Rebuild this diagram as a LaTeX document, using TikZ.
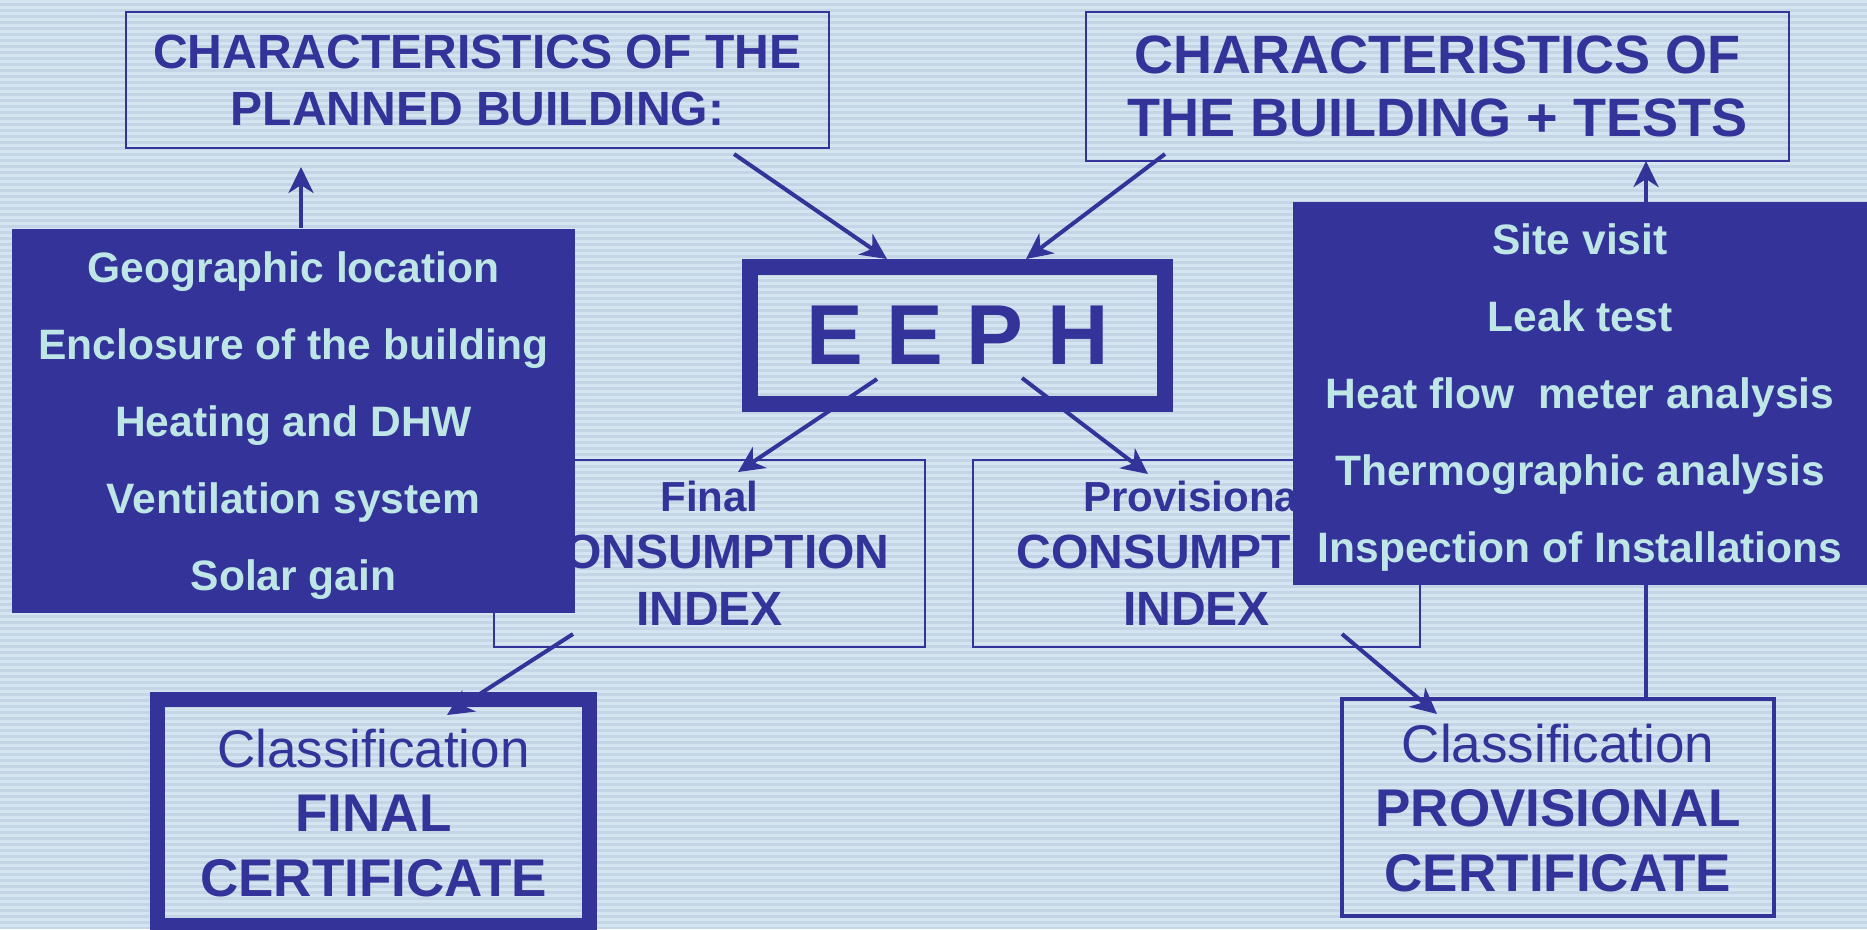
\documentclass[tikz,border=0pt]{standalone}
\usepackage{fontspec}
\setmainfont{Liberation Sans}
\usetikzlibrary{arrows.meta,calc}
\definecolor{navy}{RGB}{51,51,153}
\definecolor{ice}{RGB}{190,230,230}
\definecolor{bgbase}{RGB}{196,214,230}
\definecolor{bgstripe}{RGB}{212,228,240}

\begin{document}
\begin{tikzpicture}[x=0.01cm, y=-0.01cm,
        frame/.style = {draw=navy, text=navy, align=center,
            inner sep=0pt, text depth=0pt},
        thin/.style = {frame, line width=0.025cm},
        heavy/.style = {frame, line width=0.155cm},
        list/.style = {fill=navy, text=ice, align=center,
            inner sep=0pt, text depth=0pt,
            font=\bfseries\fontsize{12.1}{21.9}\selectfont},
        arr/.style = {navy, line width=0.04cm,
            -{Stealth[length=0.26cm, width=0.25cm, inset=0.08cm]}}]

    \useasboundingbox (0,0) rectangle (1867,929);

    % Background
    \fill[bgbase] (0,0) rectangle (1867,929);
    \foreach \yy in {0,6,...,924}
        \fill[bgstripe] (0,\yy) rectangle (1867,\yy+3);

    % Characteristics boxes
    \node[thin, minimum width=7.03cm, minimum height=1.36cm,
        font=\bfseries\fontsize{13.66}{16.22}\selectfont]
        (planned) at (477.5,80) {CHARACTERISTICS OF THE\\PLANNED BUILDING:};
    \node[thin, minimum width=7.03cm, minimum height=1.49cm,
        font=\bfseries\fontsize{15.36}{17.93}\selectfont]
        (tests) at (1437.5,86.5) {CHARACTERISTICS OF\\THE BUILDING + TESTS};

    % EEPH
    \node[heavy, minimum width=4.15cm, minimum height=1.37cm,
        font=\bfseries\fontsize{24.2}{29}\selectfont]
        (eeph) at (957.5,335.5) {E E P H};

    % Consumption indexes
    \node[thin, minimum width=4.31cm, minimum height=1.87cm,
        font=\bfseries\fontsize{13.66}{16.2}\selectfont]
        (finalidx) at (709.5,553.5)
        {{\fontsize{11.95}{16.2}\selectfont Final}\\CONSUMPTION\\INDEX};
    \node[thin, minimum width=4.47cm, minimum height=1.87cm,
        font=\bfseries\fontsize{13.66}{16.2}\selectfont]
        (providx) at (1196.5,553.5)
        {{\fontsize{11.95}{16.2}\selectfont Provisional}\\CONSUMPTION\\INDEX};

    % Certificates
    \node[heavy, line width=0.15cm, minimum width=4.31cm, minimum height=2.26cm,
        font=\bfseries\fontsize{15.08}{18.35}\selectfont]
        (finalcert) at (373.5,812.5)
        {{\mdseries Classification}\\FINAL\\CERTIFICATE};
    \node[frame, line width=0.045cm, minimum width=4.32cm, minimum height=2.17cm,
        font=\bfseries\fontsize{15.08}{18.35}\selectfont]
        (provcert) at (1558,807.5)
        {{\mdseries Classification}\\PROVISIONAL\\CERTIFICATE};

    % Arrows
    \draw[arr] ($(planned.center)+(256.5,74)$) -- ($(eeph.center)+(-70.5,-76.5)$);
    \draw[arr] ($(tests.center)+(-272.5,67.5)$) -- ($(eeph.center)+(68.5,-76.5)$);
    \draw[arr] ($(eeph.center)+(-80.5,43.5)$) -- ($(finalidx.center)+(28.5,-81.5)$);
    \draw[arr] ($(eeph.center)+(64.5,42.5)$) -- ($(providx.center)+(-48.5,-79.5)$);
    \draw[arr] ($(finalidx.center)+(-136.5,80.5)$) -- ($(finalcert.center)+(73.5,-97.5)$);
    \draw[arr] ($(providx.center)+(145.5,80.5)$) -- ($(provcert.center)+(-121,-93.5)$);
    \draw[arr] ($(provcert.center)+(88,-110.5)$) -- ($(tests.center)+(208.5,74.5)$);

    % Lists of characteristics
    \node[list, minimum width=5.63cm, minimum height=3.84cm]
        (planitems) at (293.5,421)
        {Geographic location\\Enclosure of the building\\Heating and DHW\\Ventilation system\\Solar gain};
    \node[list, minimum width=5.74cm, minimum height=3.83cm]
        (testitems) at (1580,393.5)
        {Site visit\\Leak test\\Heat flow\ \ meter analysis\\Thermographic analysis\\Inspection of Installations};

    \draw[arr] ($(planitems.north)+(7.5,0)$) -- ($(planned.center)+(-176.5,87)$);

\end{tikzpicture}
\end{document}
